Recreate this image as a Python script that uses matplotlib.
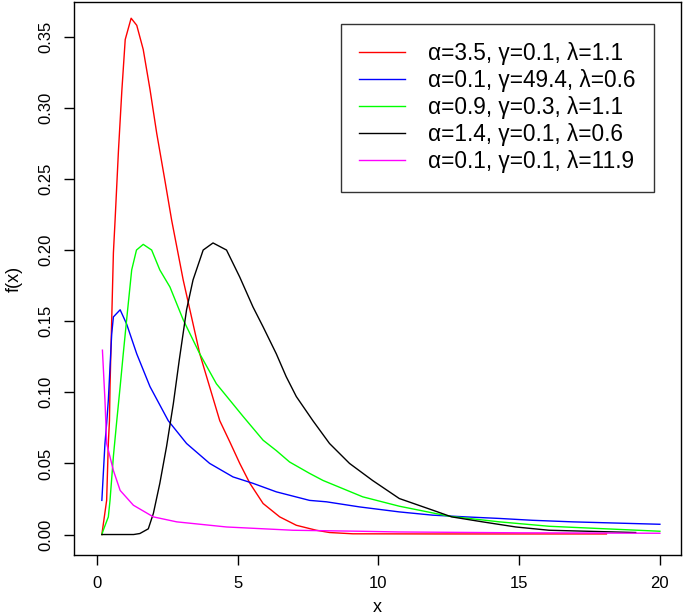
import matplotlib.pyplot as plt

plt.rcParams['font.family'] = ['Liberation Sans', 'DejaVu Sans']

# valores (x, f(x)) para cada curva
x_red = [0.17, 0.34, 0.40, 0.44, 0.46, 0.52, 0.58, 0.64, 0.76, 0.88, 1.00, 1.21, 1.41,
         1.64, 1.88, 2.12, 2.41, 2.65, 3.06, 3.65, 4.36, 4.72, 5.07, 5.43, 5.90, 6.49,
         7.08, 7.79, 8.26, 9.09, 12.0, 15.0, 18.1]
y_red = [0.0, 0.024, 0.064, 0.080, 0.104, 0.151, 0.198, 0.221, 0.270, 0.312, 0.348, 0.363,
         0.358, 0.341, 0.313, 0.282, 0.249, 0.221, 0.179, 0.127, 0.080, 0.065, 0.050,
         0.036, 0.0218, 0.0124, 0.0065, 0.003, 0.0014, 0.0005, 0.0004, 0.0004, 0.0004]

x_blue = [0.17, 0.28, 0.34, 0.40, 0.46, 0.52, 0.58, 0.82, 1.05, 1.41, 1.88, 2.53, 3.18,
          4.00, 4.83, 5.54, 6.37, 7.55, 8.15, 9.33, 10.74, 11.93, 13.1, 14.3, 15.47,
          16.9, 20.0]
y_blue = [0.024, 0.064, 0.078, 0.0945, 0.118, 0.141, 0.153, 0.158, 0.148, 0.127, 0.104,
          0.080, 0.064, 0.050, 0.0405, 0.036, 0.030, 0.024, 0.023, 0.0194, 0.0159, 0.0136,
          0.0124, 0.0113, 0.010, 0.0089, 0.0072]

x_green = [0.17, 0.22, 0.40, 0.46, 0.58, 0.70, 0.82, 0.93, 1.05, 1.23, 1.40, 1.64, 1.94,
           2.23, 2.59, 3.06, 3.65, 4.24, 5.19, 5.90, 6.37, 6.84, 7.55, 8.03, 9.44, 10.74,
           12.5, 14.3, 16.06, 20.0]
y_green = [0.0, 0.003, 0.0124, 0.024, 0.055, 0.080, 0.104, 0.127, 0.151, 0.186, 0.200,
           0.204, 0.200, 0.186, 0.174, 0.151, 0.127, 0.106, 0.083, 0.0663, 0.059, 0.051,
           0.043, 0.038, 0.0265, 0.0199, 0.0129, 0.0089, 0.0058, 0.0023]

x_black = [0.17, 1.30, 1.52, 1.82, 2.00, 2.23, 2.47, 2.71, 2.92, 3.18, 3.41, 3.77, 4.12,
           4.60, 5.07, 5.54, 5.90, 6.37, 6.72, 7.08, 7.67, 8.26, 8.97, 9.79, 10.74, 11.93,
           12.6, 13.7, 14.88, 16.06, 19.14]
y_black = [0.0, 0.0, 0.0007, 0.004, 0.0148, 0.036, 0.062, 0.092, 0.1226, 0.158, 0.179,
           0.200, 0.205, 0.200, 0.181, 0.160, 0.146, 0.127, 0.111, 0.097, 0.080, 0.064,
           0.050, 0.038, 0.0253, 0.0171, 0.0124, 0.0089, 0.0053, 0.003, 0.0014]

x_mag = [0.19, 0.28, 0.34, 0.46, 0.58, 0.82, 1.29, 2.00, 2.83, 4.60, 6.96, 9.33, 10.7,
         15.0, 20.0]
y_mag = [0.1296, 0.0945, 0.064, 0.0546, 0.045, 0.031, 0.0206, 0.0124, 0.0089, 0.0053,
         0.003, 0.0023, 0.0018, 0.0012, 0.0009]

rotulos = ['α=3.5, γ=0.1, λ=1.1',
           'α=0.1, γ=49.4, λ=0.6',
           'α=0.9, γ=0.3, λ=1.1',
           'α=1.4, γ=0.1, λ=0.6',
           'α=0.1, γ=0.1, λ=11.9']
cores = ['#ff0000', '#0000ff', '#00ff00', '#000000', '#ff00ff']

fig = plt.figure(figsize=(6.85, 6.16), dpi=100)
ax = fig.add_axes([74 / 685, 1 - 555 / 616, 607 / 685, 553 / 616])

series = [(x_red, y_red), (x_blue, y_blue), (x_green, y_green),
          (x_black, y_black), (x_mag, y_mag)]
for (xs, ys), cor, rot in zip(series, cores, rotulos):
    ax.plot(xs, ys, color=cor, lw=1.0, label=rot)

ax.set_xlim(-0.82, 20.75)
ax.set_ylim(-0.0144, 0.3744)
ax.set_xticks([0, 5, 10, 15, 20])
ax.set_yticks([0.0, 0.05, 0.10, 0.15, 0.20, 0.25, 0.30, 0.35])
ax.set_yticklabels([f'{v:.2f}' for v in ax.get_yticks()], rotation=90, va='center')
ax.tick_params(direction='out', length=7, width=1, labelsize=12, pad=8)
for s in ax.spines.values():
    s.set_linewidth(1)

ax.set_xlabel('x', fontsize=13, labelpad=6)
ax.set_ylabel('f(x)', fontsize=13, labelpad=11)

# legenda no canto superior direito, como no original
leg = ax.legend(loc='upper right', bbox_to_anchor=(0.9555, 0.9602), borderaxespad=0,
                fontsize=16.3, fancybox=False, frameon=True, edgecolor='black',
                handlelength=2.0, handletextpad=1.05, borderpad=0.8, labelspacing=0.18)
leg.get_frame().set_linewidth(1)

fig.savefig('out.png', dpi=100)
